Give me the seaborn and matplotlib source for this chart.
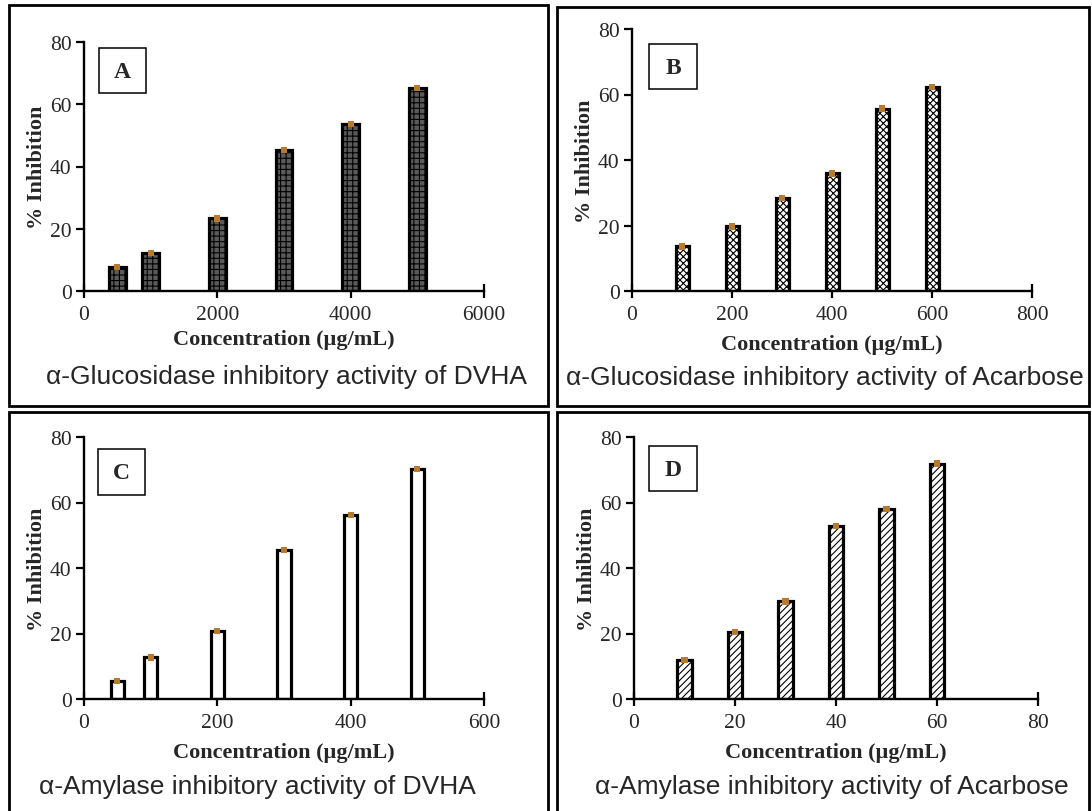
import matplotlib
matplotlib.use("Agg")
import matplotlib.pyplot as plt
from matplotlib.patches import Rectangle
import seaborn as sns
import pandas as pd

# ---------------- data ----------------
conc_a = [500, 1000, 2000, 3000, 4000, 5000]
inh_a = [7.6, 12.1, 23.3, 45.2, 53.6, 65.2]
conc_b = [100, 200, 300, 400, 500, 600]
inh_b = [13.6, 19.7, 28.4, 35.9, 55.7, 62.4]
conc_c = [50, 100, 200, 300, 400, 500]
inh_c = [5.4, 12.7, 20.8, 45.5, 56.2, 70.2]
conc_d = [10, 20, 30, 40, 50, 60]
inh_d = [12.0, 20.4, 29.8, 52.9, 57.9, 71.9]

xticks_a = [0, 2000, 4000, 6000]
xticks_b = [0, 200, 400, 600, 800]
xticks_c = [0, 200, 400, 600]
xticks_d = [0, 20, 40, 60, 80]
yticks = [0, 20, 40, 60, 80]

letters = ["A", "B", "C", "D"]
titles = [
    "\u03b1-Glucosidase inhibitory activity of DVHA",
    "\u03b1-Glucosidase inhibitory activity of Acarbose",
    "\u03b1-Amylase inhibitory activity of DVHA",
    "\u03b1-Amylase inhibitory activity of Acarbose",
]
xlabel = "Concentration (\u00b5g/mL)"
ylabel = "% Inhibition"

# ---------------- style ----------------
sns.set_style("ticks")
plt.rcParams["font.family"] = ["Liberation Serif", "DejaVu Serif"]
plt.rcParams["hatch.linewidth"] = 0.8

W, H = 1092, 812
fig = plt.figure(figsize=(W / 100, H / 100), dpi=100)
fig.patch.set_facecolor("white")


def fx(x):
    return x / W


def fy(y):
    return 1 - y / H


def add_ax(l, t, r, b):
    return fig.add_axes([fx(l), fy(b), (r - l) / W, (b - t) / H])


panels = [
    dict(x=conc_a, y=inh_a, xt=xticks_a, box=(84, 43, 484, 292), width=0.50,
         face="#5a5a5a", hatch="+++", letter=(99, 49, 146, 94),
         title=(287, 377), frame=(9, 6, 548, 407)),
    dict(x=conc_b, y=inh_b, xt=xticks_b, box=(632, 30, 1032, 292), width=0.26,
         face="white", hatch="xxxxx", letter=(649, 45, 697, 90),
         title=(825, 378), frame=(557, 8, 1089, 407)),
    dict(x=conc_c, y=inh_c, xt=xticks_c, box=(84, 438, 484, 700), width=0.40,
         face="white", hatch="", letter=(98, 450, 145, 496),
         title=(257, 787), frame=(9, 413, 548, 815)),
    dict(x=conc_d, y=inh_d, xt=xticks_d, box=(634, 438, 1038, 700), width=0.28,
         face="white", hatch="/////", letter=(649, 447, 697, 492),
         title=(832, 787), frame=(557, 413, 1089, 815)),
]

for i, p in enumerate(panels):
    l, t, r, b = p["box"]
    ax = add_ax(l, t, r, b)
    df = pd.DataFrame({"conc": p["x"], "inh": p["y"]})
    sns.barplot(data=df, x="conc", y="inh", native_scale=True, width=p["width"],
                errorbar=None, color=p["face"], ax=ax)
    for bar in ax.patches:
        bar.set_facecolor(p["face"])
        bar.set_edgecolor("black")
        bar.set_linewidth(2.3)
        if p["hatch"]:
            bar.set_hatch(p["hatch"])
    sns.scatterplot(data=df, x="conc", y="inh", marker="s", s=20, color="#b97a2c",
                    edgecolor="none", ax=ax, zorder=5, clip_on=False)
    ax.set_xlim(p["xt"][0], p["xt"][-1])
    ax.set_ylim(0, 80)
    ax.set_xticks(p["xt"])
    ax.set_yticks(yticks)
    ax.set_xticklabels([str(v) for v in p["xt"]], fontsize=15.5)
    ax.set_yticklabels([str(v) for v in yticks], fontsize=15.5)
    ax.tick_params(axis="both", length=6, width=1.6, color="black", pad=3)
    ax.tick_params(axis="x", direction="inout", length=10, pad=5)
    sns.despine(ax=ax)
    for s in ["left", "bottom"]:
        ax.spines[s].set_linewidth(1.7)
        ax.spines[s].set_color("black")
    ax.set_facecolor("none")
    ax.set_xlabel("")
    ax.set_ylabel("")

    # axis labels
    xl_y = {0: 340, 1: 345, 2: 753, 3: 753}[i]
    fig.text(fx((l + r) / 2), fy(xl_y), xlabel, ha="center", va="center",
             fontsize=16, fontweight="bold")
    fig.text(fx(l - 47), fy((t + b) / 2), ylabel, ha="center", va="center",
             rotation=90, fontsize=16, fontweight="bold")

    # panel letter box
    lx0, ly0, lx1, ly1 = p["letter"]
    fig.patches.append(Rectangle((fx(lx0), fy(ly1)), (lx1 - lx0) / W, (ly1 - ly0) / H,
                                 transform=fig.transFigure, fill=False,
                                 edgecolor="black", linewidth=1.1))
    fig.text(fx((lx0 + lx1) / 2), fy((ly0 + ly1) / 2 + 1), letters[i], ha="center",
             va="center", fontsize=17, fontweight="bold")

    # title
    tx, ty = p["title"]
    fig.text(fx(tx), fy(ty), titles[i], ha="center", va="center", fontsize=19,
             family=["Liberation Sans", "DejaVu Sans"])

    # outer frame
    x0, y0, x1, y1 = p["frame"]
    fig.patches.append(Rectangle((fx(x0), fy(y1)), (x1 - x0) / W, (y1 - y0) / H,
                                 transform=fig.transFigure, fill=False,
                                 edgecolor="black", linewidth=2.0))

fig.savefig("out.png", dpi=100, facecolor="white")
